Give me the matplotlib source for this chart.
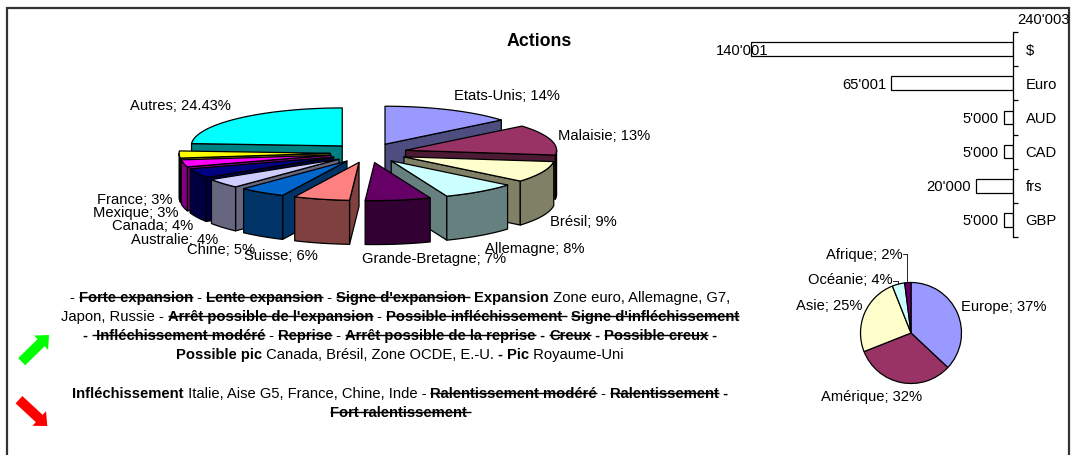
import numpy as np
import matplotlib
matplotlib.use("Agg")
import matplotlib.pyplot as plt
from matplotlib.colors import to_rgb
from matplotlib.patches import Polygon, FancyArrow

plt.rcParams['font.family'] = ['Liberation Sans', 'DejaVu Sans']

W = 1072
H = 455
FS = 10.6

# 3D pie
pays = ["Etats-Unis", "Malaisie", "Brésil", "Allemagne", "Grande-Bretagne", "Suisse",
        "Chine", "Australie", "Canada", "Mexique", "France", "Autres"]
pays_val = [14, 13, 9, 8, 7, 6, 5, 4, 4, 3, 3, 24.43]
pays_col = ["#9999FF", "#993366", "#FFFFCC", "#CCFFFF", "#660066", "#FF8080",
            "#0066CC", "#CCCCFF", "#000080", "#FF00FF", "#FFFF00", "#00FFFF"]

# small pie
regions = ["Europe", "Amérique", "Asie", "Océanie", "Afrique"]
regions_val = [37, 32, 25, 4, 2]
regions_col = ["#9999FF", "#993366", "#FFFFCC", "#CCFFFF", "#660066"]

# bars
devises = ["$", "Euro", "AUD", "CAD", "frs", "GBP"]
devises_val = [140001, 65001, 5000, 5000, 20000, 5000]
total_label = "240'003"

# text block, n = normal, b = bold, s = bold with strike
lignes_haut = [
    [("- ", "n"), ("Forte expansion", "s"), (" - ", "n"), ("Lente expansion", "s"), (" - ", "n"),
     ("Signe d'expansion ", "s"), (" ", "n"), ("Expansion", "b"), (" Zone euro, Allemagne, G7,", "n")],
    [("Japon, Russie - ", "n"), ("Arrêt possible de l'expansion", "s"), (" - ", "n"),
     ("Possible infléchissement ", "s"), (" ", "n"), ("Signe d'infléchissement", "s")],
    [("- ", "b"), (" Infléchissement modéré", "s"), (" - ", "n"), ("Reprise", "s"), (" - ", "n"),
     ("Arrêt possible de la reprise", "s"), (" - ", "b"), ("Creux", "s"), (" - ", "b"),
     ("Possible creux", "s"), (" -", "b")],
    [("Possible pic", "b"), (" Canada, Brésil, Zone OCDE, E.-U. ", "n"), ("- ", "b"), ("Pic", "b"),
     (" Royaume-Uni", "n")],
]
lignes_bas = [
    [("Infléchissement", "b"), (" Italie, Aise G5, France, Chine, Inde - ", "n"),
     ("Ralentissement modéré", "s"), (" - ", "n"), ("Ralentissement", "s"), (" -", "b")],
    [("Fort ralentissement ", "s")],
]

fig = plt.figure(figsize=(W / 100, H / 100), dpi=100, facecolor="white")
ax = fig.add_axes([0, 0, 1, 1])
ax.set_xlim(0, W)
ax.set_ylim(H, 0)
ax.axis("off")

# frame
ax.plot([7, 7, 1069, 1069], [H, 8, 8, H], color="#333333", lw=1.6, solid_joinstyle="miter")

ax.text(539, 40, "Actions", ha="center", va="center_baseline", fontsize=12.8, fontweight="bold")


def sombre(c):
    return tuple(v * 0.5 for v in to_rgb(c))


def point(cx, cy, rx, ry, a):
    return cx + rx * np.sin(a), cy - ry * np.cos(a)


def part3d(a, b, col, cx, cy, rx, ry, depth, explode):
    mid = (a + b) / 2
    ox, oy = point(cx, cy, rx * explode, ry * explode, mid)
    side = sombre(col)
    kw = dict(edgecolor="black", lw=0.9, joinstyle="round")

    # radial walls that face the viewer
    if np.sin(a) < 0:
        x, y = point(ox, oy, rx, ry, a)
        ax.add_patch(Polygon([(ox, oy), (x, y), (x, y + depth), (ox, oy + depth)], facecolor=side, **kw))
    if np.sin(b) > 0:
        x, y = point(ox, oy, rx, ry, b)
        ax.add_patch(Polygon([(ox, oy), (x, y), (x, y + depth), (ox, oy + depth)], facecolor=side, **kw))

    # outer wall, only the front half
    a2 = max(a, np.pi / 2)
    b2 = min(b, 3 * np.pi / 2)
    if a2 < b2:
        t = np.linspace(a2, b2, 40)
        x, y = point(ox, oy, rx, ry, t)
        pts = list(zip(x, y)) + list(zip(x[::-1], y[::-1] + depth))
        ax.add_patch(Polygon(pts, facecolor=side, **kw))

    t = np.linspace(a, b, 60)
    x, y = point(ox, oy, rx, ry, t)
    ax.add_patch(Polygon([(ox, oy)] + list(zip(x, y)), facecolor=col, **kw))


bornes = np.concatenate([[0], np.cumsum(pays_val)]) / 100 * 2 * np.pi
bornes = np.minimum(bornes, 2 * np.pi)
parts = [(bornes[i], bornes[i + 1], pays_col[i]) for i in range(len(pays_val))]
parts.sort(key=lambda p: -np.cos((p[0] + p[1]) / 2))
for a, b, col in parts:
    part3d(a, b, col, 368.6, 153, 151, 38, 44, 0.255)

pos_pays = [(506.5, 95), (604, 134), (583.5, 221), (534.5, 248), (434, 257), (281, 255),
            (221.5, 248), (174.5, 238), (152.5, 225), (135.5, 211), (134.5, 199), (180.5, 104)]
for nom, v, (x, y) in zip(pays, pays_val, pos_pays):
    ax.text(x, y, f"{nom}; {v:g}%", ha="center", va="center_baseline", fontsize=FS, zorder=5)

# small pie
ax_pie = fig.add_axes([(911 - 51) / W, 1 - (333 + 51) / H, 102 / W, 102 / H])
ax_pie.pie(regions_val, colors=regions_col, startangle=90, counterclock=False, radius=1,
           wedgeprops=dict(edgecolor="black", lw=0.9))
ax_pie.set_xlim(-1.01, 1.01)
ax_pie.set_ylim(-1.01, 1.01)

pos_regions = [(1003.5, 306), (872, 396), (829, 305), (850, 279), (864.5, 253)]
for nom, v, (x, y) in zip(regions, regions_val, pos_regions):
    ax.text(x, y, f"{nom}; {v}%", ha="center", va="center_baseline", fontsize=FS, zorder=5)
ax.plot([903, 907, 907], [254, 254, 283], color="black", lw=0.6, zorder=1)
ax.plot([893, 898, 898], [281, 281, 284], color="black", lw=0.6, zorder=1)

# bars
ech = 262 / 140001
bar_l = 720
bar_r = 1013
bar_t = 32
bar_b = 237
ax_bar = fig.add_axes([bar_l / W, 1 - bar_b / H, (bar_r - bar_l) / W, (bar_b - bar_t) / H])
ax_bar.patch.set_alpha(0)
y_pos = np.arange(len(devises))
barres = ax_bar.barh(y_pos, devises_val, height=0.4, color="white", edgecolor="black", lw=0.9)
ax_bar.set_xlim((bar_r - bar_l) / ech, 0)
ax_bar.set_ylim(len(devises) - 0.5, -0.5)
for s in ["left", "top", "bottom"]:
    ax_bar.spines[s].set_visible(False)
ax_bar.spines["right"].set_linewidth(0.9)
ax_bar.xaxis.set_visible(False)
ax_bar.yaxis.tick_right()
ax_bar.set_yticks(y_pos)
ax_bar.set_yticklabels(devises, fontsize=FS)
ax_bar.tick_params(axis="y", which="major", length=0, pad=9)
ax_bar.set_yticks(np.arange(len(devises) + 1) - 0.5, minor=True)
ax_bar.tick_params(axis="y", which="minor", length=3.5, width=0.9)
for i, v in enumerate(devises_val):
    etiq = f"{v:,}".replace(",", "'")
    dx = 12.5 if v == max(devises_val) else -3.6
    ax_bar.annotate(etiq, (v, i), xytext=(dx, 0), textcoords="offset points", ha="right",
                    va="center_baseline", fontsize=FS, annotation_clip=False)
ax.text(1017, 19, total_label, ha="left", va="center_baseline", fontsize=FS)

# mixed text
rend = fig.canvas.get_renderer()


def largeur(txt, poids):
    t1 = ax.text(0, 0, "x" + txt + "x", fontsize=FS, fontweight=poids)
    t2 = ax.text(0, 0, "xx", fontsize=FS, fontweight=poids)
    w = t1.get_window_extent(rend).width - t2.get_window_extent(rend).width
    t1.remove()
    t2.remove()
    return w


def ligne(runs, xc, y):
    ws = [largeur(t, "normal" if s == "n" else "bold") for t, s in runs]
    x = xc - sum(ws) / 2
    for (t, s), w in zip(runs, ws):
        ax.text(x, y + 5, t, ha="left", va="baseline", fontsize=FS,
                fontweight="normal" if s == "n" else "bold")
        if s == "s":
            ax.plot([x, x + w], [y, y], color="black", lw=1.0, solid_capstyle="butt")
        x += w


for runs, y in zip(lignes_haut, [297, 316, 335, 354]):
    ligne(runs, 400, y)
for runs, y in zip(lignes_bas, [393, 412]):
    ligne(runs, 400, y)

# arrows
def fleche(x0, y0, x1, y1, col):
    ax.add_patch(FancyArrow(x0, y0, x1 - x0, y1 - y0, width=10, head_width=20, head_length=11,
                            length_includes_head=True, facecolor=col, edgecolor="none"))


fleche(21.7, 361.7, 49, 335, "#00FF00")
fleche(19, 399.7, 47.3, 426, "#FF0000")

fig.savefig("out.png", dpi=100, facecolor="white")
